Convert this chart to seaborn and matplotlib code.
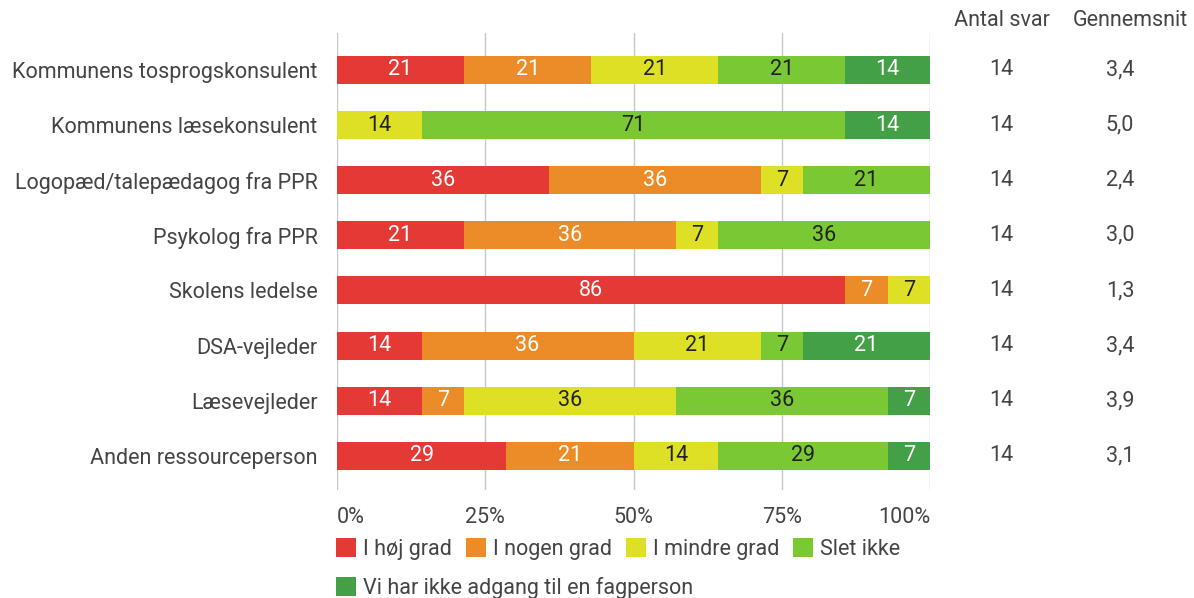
import numpy as np
import pandas as pd
import matplotlib.pyplot as plt
import matplotlib.transforms as mtransforms
from matplotlib.patches import Patch
import seaborn as sns

# Data (counts out of 14 respondents per row)
categories = [
    'Kommunens tosprogskonsulent',
    'Kommunens læsekonsulent',
    'Logopæd/talepædagog fra PPR',
    'Psykolog fra PPR',
    'Skolens ledelse',
    'DSA-vejleder',
    'Læsevejleder',
    'Anden ressourceperson',
]
answers = ['I høj grad', 'I nogen grad', 'I mindre grad', 'Slet ikke',
           'Vi har ikke adgang til en fagperson']
hoej_grad = [3, 0, 5, 3, 12, 2, 2, 4]
nogen_grad = [3, 0, 5, 5, 1, 5, 1, 3]
mindre_grad = [3, 2, 1, 1, 1, 3, 5, 2]
slet_ikke = [3, 10, 3, 5, 0, 1, 5, 4]
ingen_adgang = [2, 2, 0, 0, 0, 3, 1, 1]
antal_svar = [14, 14, 14, 14, 14, 14, 14, 14]
gennemsnit = ['3,4', '5,0', '2,4', '3,0', '1,3', '3,4', '3,9', '3,1']
x_ticks = [0, 25, 50, 75, 100]
x_labels = ['0%', '25%', '50%', '75%', '100%']

colors = ['#E53935', '#EB8C28', '#DEE026', '#7AC833', '#43A047']
text_colors = ['white', 'white', '#222222', '#222222', 'white']

sns.set_theme(style='white')
plt.rcParams['font.family'] = ['Roboto', 'DejaVu Sans']
plt.rcParams['text.color'] = '#444444'
fs = 15.5

# long table with percentages and cumulative ends
counts = np.array([hoej_grad, nogen_grad, mindre_grad, slet_ikke, ingen_adgang])
n = np.array(antal_svar)
pct = counts / n * 100
cum = np.cumsum(pct, axis=0)
rows = []
for j, a in enumerate(answers):
    for i, c in enumerate(categories):
        rows.append({'category': c, 'answer': a, 'pct': pct[j, i],
                     'end': cum[j, i], 'start': cum[j, i] - pct[j, i]})
df = pd.DataFrame(rows)

fig = plt.figure(figsize=(11.94, 5.98), dpi=100)
ax = fig.add_axes([337 / 1194, 1 - 490 / 598, (930 - 337) / 1194, (490 - 33) / 598])

# stacked bars: draw cumulative totals from the last answer to the first
for j in reversed(range(len(answers))):
    sub = df[df['answer'] == answers[j]]
    sns.barplot(data=sub, x='end', y='category', order=categories, orient='h',
                color=colors[j], saturation=1, width=0.51, errorbar=None,
                linewidth=0, ax=ax)

for _, r in df.iterrows():
    if r['pct'] > 0:
        j = answers.index(r['answer'])
        i = categories.index(r['category'])
        ax.text(r['start'] + r['pct'] / 2, i, f"{r['pct']:.0f}", ha='center',
                va='center', fontsize=fs, color=text_colors[j])

ax.set_xlim(0, 100)
ax.set_ylim(len(categories) - 1 + 0.62, -0.67)
ax.set_xticks(x_ticks, labels=x_labels)
ax.grid(axis='x', color='#c8c8c8', linewidth=1)
ax.set_axisbelow(True)
for s in ax.spines.values():
    s.set_visible(False)
ax.tick_params(axis='x', length=0, pad=12, labelsize=fs, labelcolor='#444444')
ax.tick_params(axis='y', length=0, pad=14, labelsize=fs, labelcolor='#444444')
ax.set_xlabel('')
ax.set_ylabel('')
xl = ax.get_xticklabels()
xl[0].set_ha('left')
xl[-1].set_ha('right')

# right-hand columns
tr = mtransforms.blended_transform_factory(fig.transFigure, ax.transData)
for i in range(len(categories)):
    fig.text(1001 / 1194, i, str(antal_svar[i]), transform=tr, ha='center',
             va='center', fontsize=fs)
    fig.text(1120 / 1194, i, gennemsnit[i], transform=tr, ha='center',
             va='center', fontsize=fs)
fig.text(1002 / 1194, 1 - 21 / 598, 'Antal svar', ha='center', va='center', fontsize=fs)
fig.text(1130 / 1194, 1 - 21 / 598, 'Gennemsnit', ha='center', va='center', fontsize=fs)

# legend (four on first row, last one below)
handles = [Patch(facecolor=c, edgecolor='none') for c in colors]
leg_kw = dict(frameon=False, fontsize=fs, handlelength=0.95, handleheight=0.95,
              handletextpad=0.3, columnspacing=0.65, borderaxespad=0,
              borderpad=0, labelcolor='#444444')
fig.legend(handles[:4], answers[:4], ncol=4, loc='center left',
           bbox_to_anchor=(336 / 1194, 1 - 549 / 598), **leg_kw)
fig.legend(handles[4:], answers[4:], ncol=1, loc='center left',
           bbox_to_anchor=(336 / 1194, 1 - 588 / 598), **leg_kw)

fig.savefig('out.png', dpi=100)
